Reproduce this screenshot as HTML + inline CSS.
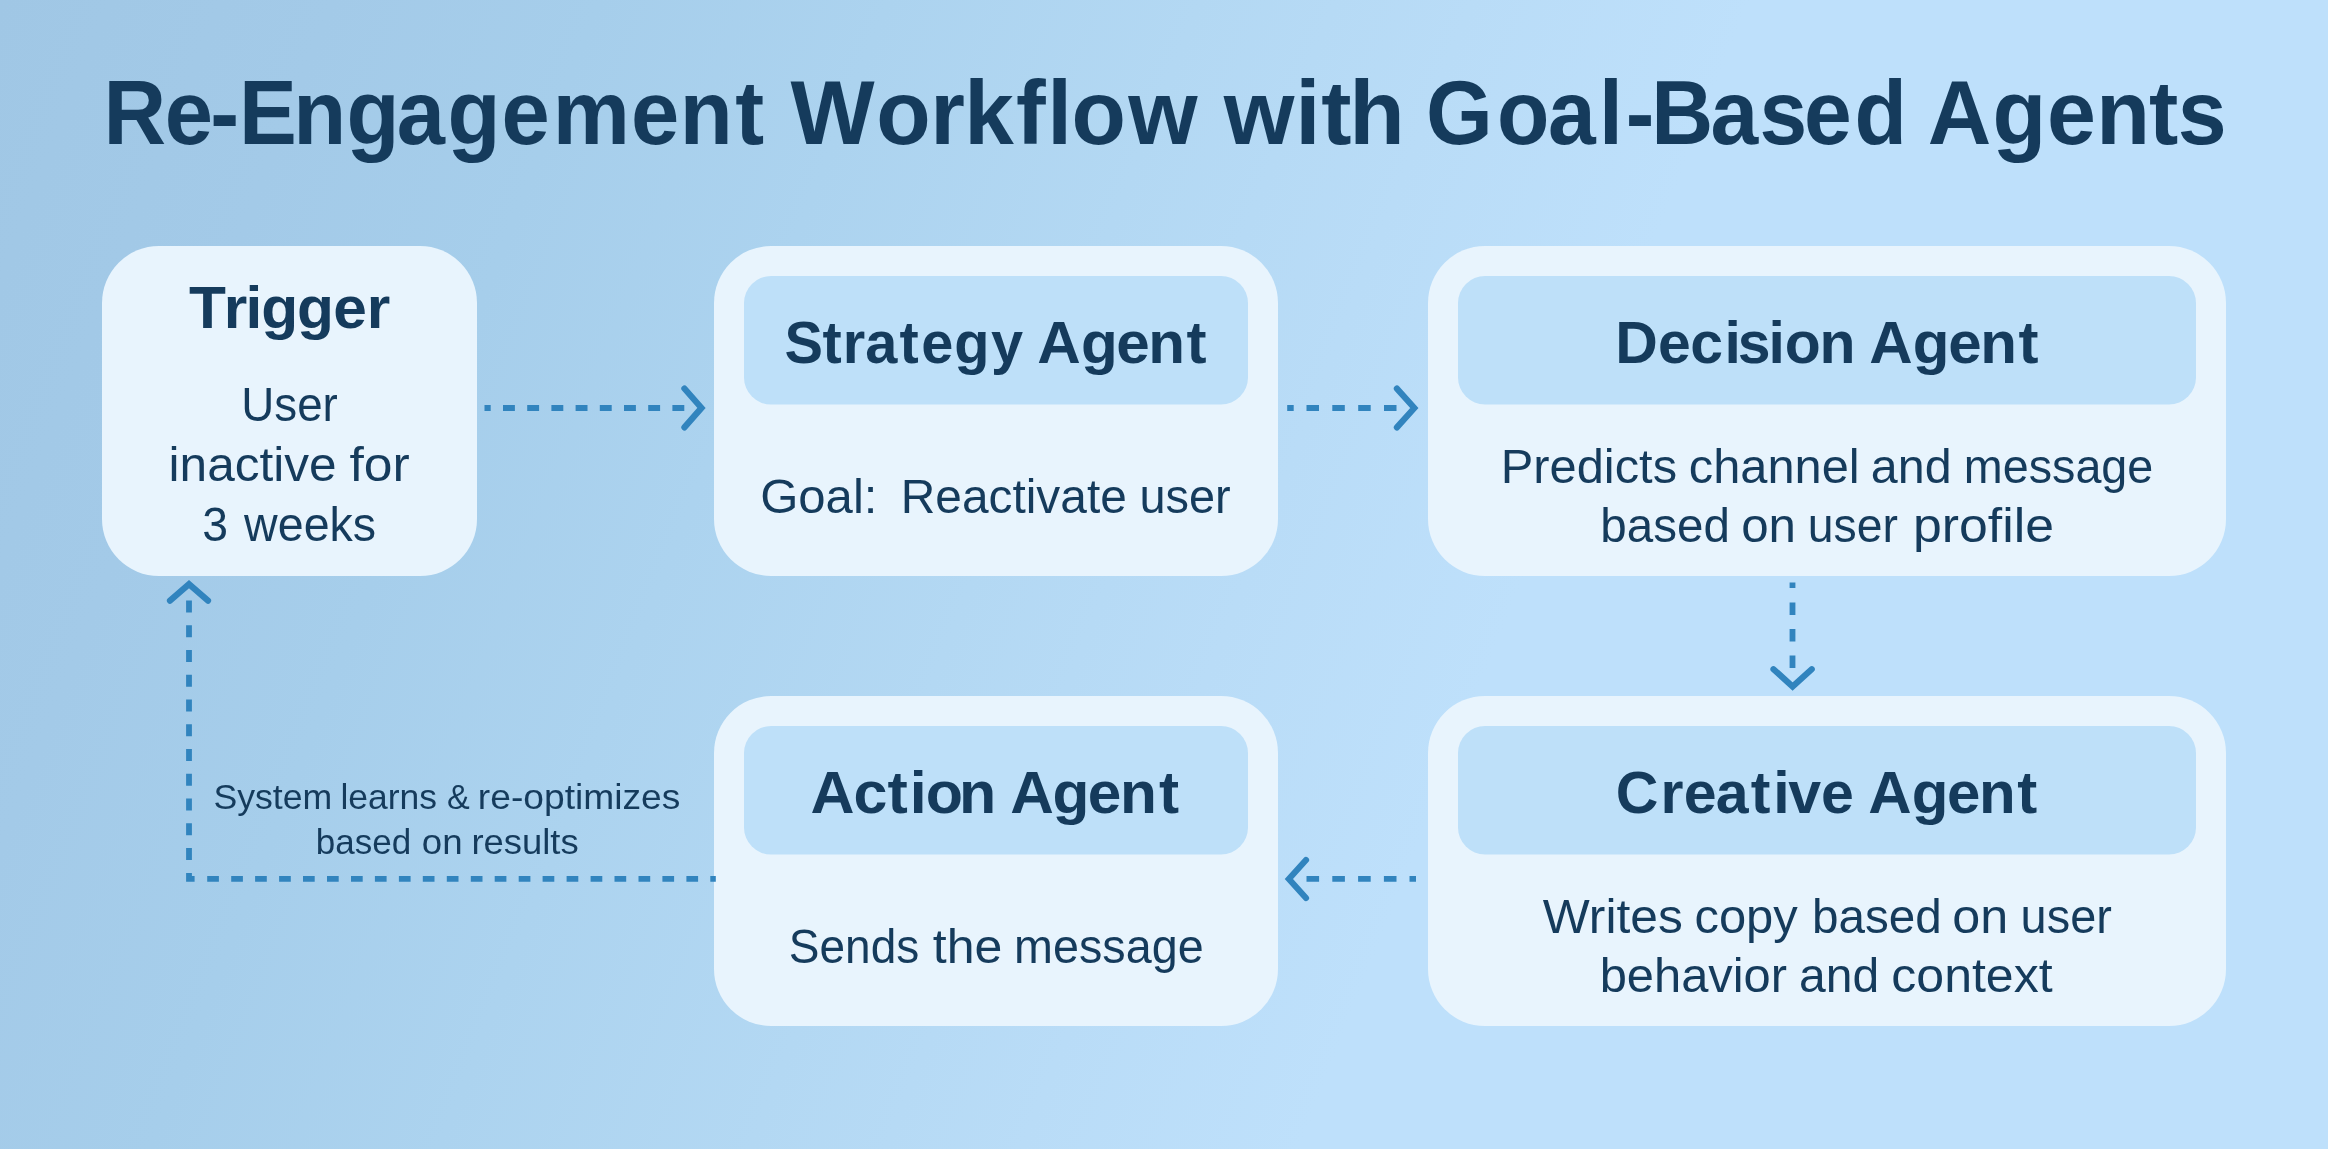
<!DOCTYPE html>
<html lang="en">
<head>
<meta charset="utf-8">
<title>Re-Engagement Workflow with Goal-Based Agents</title>
<style>
html,body{margin:0;padding:0;}
body{width:2328px;height:1149px;overflow:hidden;background:#b4d7f3;}
#stage{position:relative;width:2328px;height:1149px;overflow:hidden;
background:linear-gradient(111.4deg,rgb(160,199,229) 0%,rgb(163,202,232) 12%,rgb(166,206,235) 21.6%,rgb(172,211,239) 32%,rgb(179,216,243) 43.2%,rgb(185,220,247) 53%,rgb(190,224,251) 63%,rgb(190,224,251) 100%);}
svg{position:absolute;left:0;top:0;display:block;will-change:transform;}
text{font-family:"Liberation Sans",Arial,Helvetica,sans-serif;fill:#153b5c;white-space:pre;}
</style>
</head>
<body>
<div id="stage">
<svg width="2328" height="1149" viewBox="0 0 2328 1149">
<g id="boxes">
<rect x="102" y="246" width="375" height="330" rx="57" ry="57" fill="#e8f4fd"/>
<rect x="714" y="246" width="564" height="330" rx="57" ry="57" fill="#e8f4fd"/>
<rect x="744" y="276" width="504" height="128.5" rx="27" ry="27" fill="#bee0f9"/>
<rect x="714" y="696" width="564" height="330" rx="57" ry="57" fill="#e8f4fd"/>
<rect x="744" y="726" width="504" height="128.5" rx="27" ry="27" fill="#bee0f9"/>
<rect x="1428" y="246" width="798" height="330" rx="57" ry="57" fill="#e8f4fd"/>
<rect x="1458" y="276" width="738" height="128.5" rx="27" ry="27" fill="#bee0f9"/>
<rect x="1428" y="696" width="798" height="330" rx="57" ry="57" fill="#e8f4fd"/>
<rect x="1458" y="726" width="738" height="128.5" rx="27" ry="27" fill="#bee0f9"/>
</g>
<g id="arrows" fill="none" stroke="#3184be" stroke-width="5.8">
<path d="M484.5 408.0H490.7 M503.0 408.0H514.9 M527.2 408.0H539.1 M551.4 408.0H563.3 M575.6 408.0H587.5 M599.8 408.0H611.7 M624.0 408.0H635.9 M648.2 408.0H660.1 M672.4 408.0H684.3"/>
<path stroke-width="6.2" stroke-linecap="round" stroke-linejoin="miter" d="M684.4 388.5L701.5 407.9L684.4 427.4"/>
<path d="M1287.2 408.0H1293.7 M1306.5 408.0H1319.0 M1332.3 408.0H1344.8 M1358.2 408.0H1370.7 M1384.0 408.0H1396.5"/>
<path stroke-width="6.2" stroke-linecap="round" stroke-linejoin="miter" d="M1396.9 388.6L1414.3 408.0L1396.9 427.4"/>
<path d="M1792.5 582.4V588.1 M1792.5 602.5V615.0 M1792.5 629.0V641.5 M1792.5 655.4V667.9"/>
<path stroke-width="6.2" stroke-linecap="round" stroke-linejoin="miter" d="M1773.5 669.2L1792.6 686.6L1811.7 669.2"/>
<path d="M1409.5 878.9H1416.0 M1306.5 878.9H1319.1 M1332.3 878.9H1344.9 M1358.1 878.9H1370.7 M1383.9 878.9H1396.5"/>
<path stroke-width="6.2" stroke-linecap="round" stroke-linejoin="miter" d="M1306.0 860.0L1288.9 879.0L1306.0 898.0"/>
<path d="M207.2 878.9H218.9 M231.2 878.9H242.9 M255.1 878.9H266.8 M279.1 878.9H290.8 M303.0 878.9H314.7 M327.0 878.9H338.7 M351.0 878.9H362.7 M374.9 878.9H386.6 M398.9 878.9H410.6 M422.8 878.9H434.5 M446.8 878.9H458.5 M470.8 878.9H482.5 M494.7 878.9H506.4 M518.7 878.9H530.4 M542.6 878.9H554.3 M566.6 878.9H578.3 M590.6 878.9H602.3 M614.5 878.9H626.2 M638.5 878.9H650.2 M662.4 878.9H674.1 M686.4 878.9H698.1 M710.3 878.9H715.8"/>
<path d="M189.0 600.5V612.4 M189.0 625.3V637.2 M189.0 650.0V661.9 M189.0 674.8V686.7 M189.0 699.5V711.4 M189.0 724.3V736.2 M189.0 749.1V761.0 M189.0 773.8V785.7 M189.0 798.6V810.5 M189.0 823.3V835.2 M189.0 848.1V860.0"/>
<path stroke-linejoin="miter" d="M189 872.9V878.9H194.6"/>
<path stroke-width="6.2" stroke-linecap="round" stroke-linejoin="miter" d="M170.0 600.6L189.0 584.1L208.0 600.6"/>
</g>
<g id="labels">
<g font-size="90" font-weight="700">
<text transform="scale(0.9635 1)" x="107.50 170.91 218.11 248.06 304.28 359.51 411.81 464.49 520.58 573.62 654.98 705.53 763.12" y="143.60">Re-Engagement</text> 
<text transform="scale(0.9905 1)" x="797.99 884.77 939.31 973.41 1025.74 1057.35 1081.84 1139.19" y="143.60">Workflow</text> 
<text transform="scale(1.0101 1)" x="1211.60 1282.32 1308.01 1335.85" y="143.60">with</text> 
<text transform="scale(0.9537 1)" x="1495.35 1569.58 1623.12 1676.66 1704.70 1731.53 1793.63 1844.92 1891.63 1944.46" y="143.60">Goal-Based</text> 
<text transform="scale(0.9776 1)" x="1971.81 2038.28 2093.88 2144.28 2198.14 2227.56" y="143.60">Agents</text> 
</g>
<g font-size="60" font-weight="700">
<text transform="scale(1.0086 1)" x="187.31 221.85 243.36 258.91 294.55 330.32 363.56" y="328.50">Trigger</text> 
</g>
<g font-size="60" font-weight="700">
<text transform="scale(0.9625 1)" x="815.14 854.59 875.57 898.96 934.51 957.13 991.32 1029.68" y="362.80">Strategy</text> 
<text transform="scale(1.0030 1)" x="1034.15 1077.66 1112.83 1144.73 1183.03" y="362.80">Agent</text> 
</g>
<g font-size="60" font-weight="700">
<text transform="scale(0.9817 1)" x="1645.38 1688.94 1721.69 1756.59 1770.27 1801.41 1818.03 1853.43" y="362.60">Decision</text> 
<text transform="scale(1.0015 1)" x="1866.44 1909.99 1945.26 1977.22 2015.37" y="362.60">Agent</text> 
</g>
<g font-size="60" font-weight="700">
<text transform="scale(1.0158 1)" x="797.90 840.29 873.61 895.52 911.30 944.08" y="812.80">Action</text> 
<text transform="scale(1.0063 1)" x="1003.82 1045.95 1081.05 1112.90 1151.86" y="812.80">Agent</text> 
</g>
<g font-size="60" font-weight="700">
<text transform="scale(0.9847 1)" x="1640.81 1686.32 1709.81 1742.44 1778.03 1800.74 1816.05 1849.27" y="812.60">Creative</text> 
<text transform="scale(1.0008 1)" x="1866.68 1910.32 1945.56 1977.54 2015.72" y="812.60">Agent</text> 
</g>
<g font-size="47.2" font-weight="400">
<text transform="translate(241.28 421.00) scale(0.9690 1)">User</text> 
</g>
<g font-size="47.2" font-weight="400">
<text transform="translate(168.53 480.60) scale(1.0509 1)">inactive</text> 
<text transform="translate(349.38 480.60) scale(1.0938 1)">for</text> 
</g>
<g font-size="47.2" font-weight="400">
<text transform="translate(202.24 540.60) scale(0.9813 1)">3</text> 
<text transform="translate(244.09 540.60) scale(0.9874 1)">weeks</text> 
</g>
<g font-size="47.2" font-weight="400">
<text transform="translate(760.15 512.90) scale(1.0400 1)">Goal:</text> 
<text transform="translate(900.78 512.90) scale(1.0137 1)">Reactivate</text> 
<text transform="translate(1139.40 512.90) scale(0.9940 1)">user</text> 
</g>
<g font-size="47.2" font-weight="400">
<text transform="translate(1500.80 482.60) scale(1.0339 1)">Predicts</text> 
<text transform="translate(1688.85 482.60) scale(1.0334 1)">channel</text> 
<text transform="translate(1870.76 482.60) scale(1.0268 1)">and</text> 
<text transform="translate(1963.71 482.60) scale(0.9903 1)">message</text> 
</g>
<g font-size="47.2" font-weight="400">
<text transform="translate(1600.36 542.40) scale(1.0079 1)">based</text> 
<text transform="translate(1741.13 542.40) scale(1.0446 1)">on</text> 
<text transform="translate(1807.83 542.40) scale(0.9826 1)">user</text> 
<text transform="translate(1912.89 542.40) scale(1.0974 1)">profile</text> 
</g>
<g font-size="47.2" font-weight="400">
<text transform="translate(788.83 962.90) scale(0.9747 1)">Sends</text> 
<text transform="translate(932.75 962.90) scale(1.0617 1)">the</text> 
<text transform="translate(1014.12 962.90) scale(0.9898 1)">message</text> 
</g>
<g font-size="47.2" font-weight="400">
<text transform="translate(1542.80 932.60) scale(1.0544 1)">Writes</text> 
<text transform="translate(1694.44 932.60) scale(1.0368 1)">copy</text> 
<text transform="translate(1811.95 932.60) scale(1.0095 1)">based</text> 
<text transform="translate(1952.29 932.60) scale(1.0656 1)">on</text> 
<text transform="translate(2020.60 932.60) scale(0.9940 1)">user</text> 
</g>
<g font-size="47.2" font-weight="400">
<text transform="translate(1599.67 992.40) scale(1.0351 1)">behavior</text> 
<text transform="translate(1798.98 992.40) scale(1.0173 1)">and</text> 
<text transform="translate(1891.30 992.40) scale(1.0603 1)">context</text> 
</g>
<g font-size="34.7" font-weight="400">
<text transform="translate(213.40 809.40) scale(1.0271 1)">System</text> 
<text transform="translate(340.42 809.40) scale(1.0226 1)">learns</text> 
<text transform="translate(446.91 809.40) scale(0.9809 1)">&amp;</text> 
<text transform="translate(477.85 809.40) scale(1.0715 1)">re-optimizes</text> 
</g>
<g font-size="34.7" font-weight="400">
<text transform="translate(315.86 854.30) scale(1.0091 1)">based</text> 
<text transform="translate(421.86 854.30) scale(1.0571 1)">on</text> 
<text transform="translate(471.39 854.30) scale(1.0502 1)">results</text> 
</g>
</g>
</svg>
</div>
</body>
</html>
